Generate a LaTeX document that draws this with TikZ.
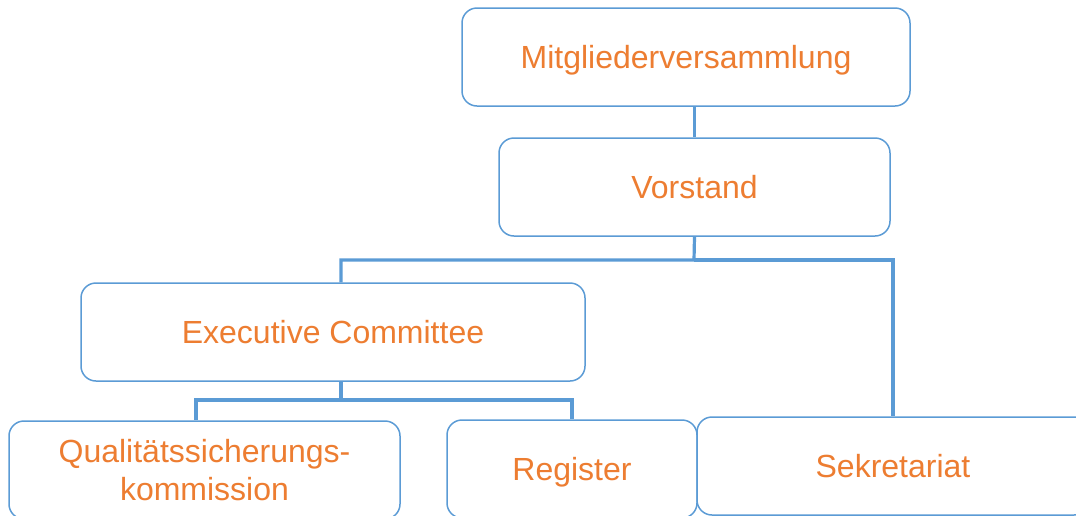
\documentclass[tikz,border=0pt]{standalone}
\usepackage{fontspec}
\setmainfont{Liberation Sans}
\usepackage{xcolor}
\usetikzlibrary{positioning}
\definecolor{boxblue}{HTML}{5B9BD5}
\definecolor{textorange}{HTML}{ED7D31}
\tikzstyle{block} = [rectangle, draw=boxblue, line width=0.75pt, fill=white,
    text=textorange, align=center, rounded corners=7.5pt, minimum height=49pt,
    font=\fontsize{16}{19.5}\selectfont]
\tikzstyle{oneline} = [text height=11.6pt, text depth=0pt]
\tikzstyle{line} = [draw=boxblue, line width=1.6pt]

\begin{document}
\begin{tikzpicture}[x=0.5pt, y=-0.5pt]
	\useasboundingbox (0,0) rectangle (1076,515);
	\clip (0,0) rectangle (1076,515);
	% Place nodes
	\node [block, oneline, minimum width=224pt] (mv) at (686,57) {Mitgliederversammlung};
	\node [block, oneline, minimum width=195.5pt] (vs) at (694.5,187) {Vorstand};
	\node [block, oneline, minimum width=252pt] (ec) at (333,332) {Executive Committee};
	\node [block, minimum width=195.5pt] (qs) at (204.5,470) {Qualitätssicherungs-\\[-0.5pt]kommission};
	\node [block, oneline, minimum width=125pt] (rg) at (572,469) {Register};
	\node [block, oneline, minimum width=196pt] (sk) at (893,466) {Sekretariat};

	% Branch points
	\coordinate (vsBranch) at (694,260);
	\coordinate (ecBranch) at (341,400);

	% Draw edges
	\path [line] (vs.north |- mv.south) -- (vs.north);
	\path [line] (vs.south) -- (vsBranch) -| (ecBranch |- ec.north);
	\path [line] (vsBranch) -| (sk.north);
	\path [line] (ecBranch |- ec.south) -- (ecBranch) -| ([xshift=-4.25pt]qs.north);
	\path [line] (ecBranch) -| (rg.north);
\end{tikzpicture}
\end{document}
